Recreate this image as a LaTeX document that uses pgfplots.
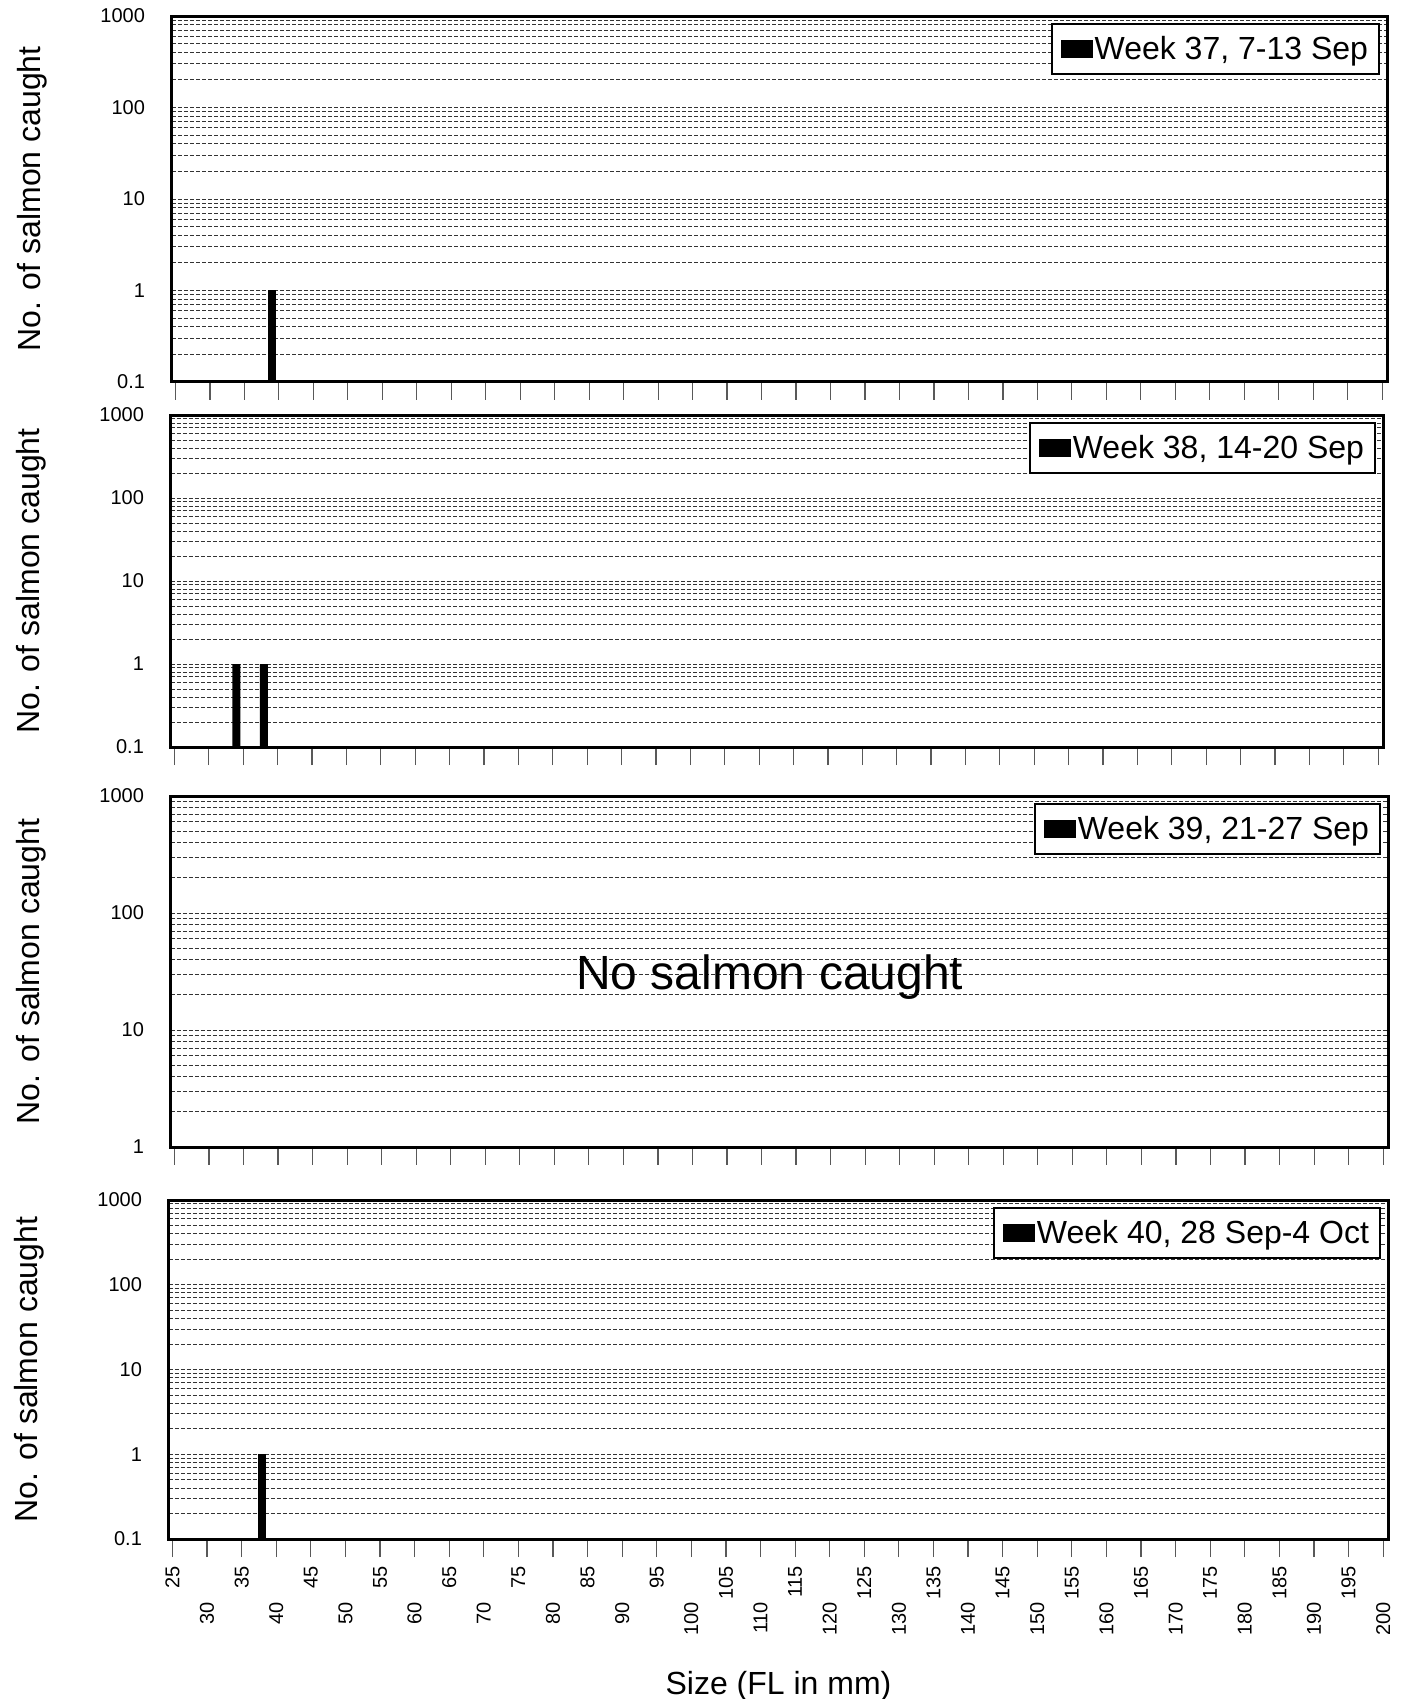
\documentclass[border=0pt]{standalone}
\usepackage{fontspec}
\setmainfont{Liberation Sans}
\usepackage{pgfplots}
\pgfplotsset{compat=1.18}

\pgfplotsset{
    scale only axis,
    xmin=24.5, xmax=200.7,
    ymajorgrids, yminorgrids,
    major grid style={dash pattern=on 2pt off 1pt, line width=0.5pt, black!80},
    minor grid style={dash pattern=on 2pt off 1pt, line width=0.5pt, black!80},
    ytick style={draw=none},
    xtick={25,30,...,200},
    xtick pos=left,
    xtick align=outside,
    major tick length=9pt,
    xtick style={line width=0.6pt, black!65},
    axis line style={line width=1.5pt},
    ticklabel style={font=\fontsize{10}{12}\selectfont},
    yticklabel style={xshift=-10pt},
    /pgf/number format/assume math mode=true,
    legend style={at={(rel axis cs:1,1)}, anchor=north east, xshift=-3.5pt, yshift=-3.5pt,
      draw=black, line width=1pt, fill=white, font=\fontsize{16}{19}\selectfont,
      inner xsep=4.5pt, inner ysep=2.5pt,
      nodes={inner xsep=1pt, inner ysep=3.5pt},
      /tikz/every odd column/.append style={column sep=0pt}},
    legend image code/.code={\fill[black] (0pt,-4.5pt) rectangle (16pt,4.5pt);},
    every axis y label/.style={at={(rel axis cs:0,0.5)}, xshift=-70pt, rotate=90, anchor=center, font=\fontsize{16}{19}\selectfont},
    every axis x label/.style={at={(rel axis cs:0.5,0)}, yshift=-73.5pt, anchor=center, font=\fontsize{16}{19}\selectfont},
}

\begin{document}
\begin{tikzpicture}
\path[use as bounding box] (0pt,0pt) rectangle (703pt,-849.5pt);

% Panel 1
\begin{axis}[at={(86pt,-8pt)}, anchor=north west, width=607.5pt, height=183pt,
  ymode=log, log origin y=infty, ymin=0.1, ymax=1000,
  ytick={0.1,1,10,100,1000}, yticklabels={0.1,1,10,100,1000},
  minor ytick={0.2,0.3,0.4,0.5,0.6,0.7,0.8,0.9,2,3,4,5,6,7,8,9,20,30,40,50,60,70,80,90,200,300,400,500,600,700,800,900},
  xticklabels={}, ylabel={No. of salmon caught}]
\addplot[ybar, bar width=4pt, fill=black, draw=none] coordinates {(39,1)};
\addlegendentry{Week 37, 7-13 Sep}
\end{axis}

% Panel 2
\begin{axis}[at={(85.5pt,-207.5pt)}, anchor=north west, width=606pt, height=166pt,
  ymode=log, log origin y=infty, ymin=0.1, ymax=1000,
  ytick={0.1,1,10,100,1000}, yticklabels={0.1,1,10,100,1000},
  minor ytick={0.2,0.3,0.4,0.5,0.6,0.7,0.8,0.9,2,3,4,5,6,7,8,9,20,30,40,50,60,70,80,90,200,300,400,500,600,700,800,900},
  xticklabels={}, ylabel={No. of salmon caught}]
\addplot[ybar, bar width=4pt, fill=black, draw=none] coordinates {(34,1) (38,1)};
\addlegendentry{Week 38, 14-20 Sep}
\end{axis}

% Panel 3
\begin{axis}[at={(85.5pt,-398pt)}, anchor=north west, width=608.5pt, height=175.5pt,
  ymode=log, ymin=1, ymax=1000,
  ytick={1,10,100,1000}, yticklabels={1,10,100,1000},
  minor ytick={2,3,4,5,6,7,8,9,20,30,40,50,60,70,80,90,200,300,400,500,600,700,800,900},
  xticklabels={}, ylabel={No. of salmon caught}]
\addlegendimage{fill=black, draw=none}
\addlegendentry{Week 39, 21-27 Sep}
\node[font=\fontsize{24}{29}\selectfont] at (rel axis cs:0.492,0.485) {No salmon caught};
\end{axis}

% Panel 4
\begin{axis}[at={(84.5pt,-600pt)}, anchor=north west, width=609.5pt, height=169.5pt,
  ymode=log, log origin y=infty, ymin=0.1, ymax=1000,
  ytick={0.1,1,10,100,1000}, yticklabels={0.1,1,10,100,1000},
  minor ytick={0.2,0.3,0.4,0.5,0.6,0.7,0.8,0.9,2,3,4,5,6,7,8,9,20,30,40,50,60,70,80,90,200,300,400,500,600,700,800,900},
  ylabel={No. of salmon caught},
  xticklabels={25,30\hspace*{18pt},35,40\hspace*{18pt},45,50\hspace*{18pt},55,60\hspace*{18pt},65,70\hspace*{18pt},75,80\hspace*{18pt},85,90\hspace*{18pt},95,100\hspace*{18pt},105,110\hspace*{18pt},115,120\hspace*{18pt},125,130\hspace*{18pt},135,140\hspace*{18pt},145,150\hspace*{18pt},155,160\hspace*{18pt},165,170\hspace*{18pt},175,180\hspace*{18pt},185,190\hspace*{18pt},195,200\hspace*{18pt}},
  xticklabel style={rotate=90, anchor=east, xshift=-1pt},
  xlabel={Size (FL in mm)}]
\addplot[ybar, bar width=4pt, fill=black, draw=none] coordinates {(38,1)};
\addlegendentry{Week 40, 28 Sep-4 Oct}
\end{axis}
\end{tikzpicture}
\end{document}
